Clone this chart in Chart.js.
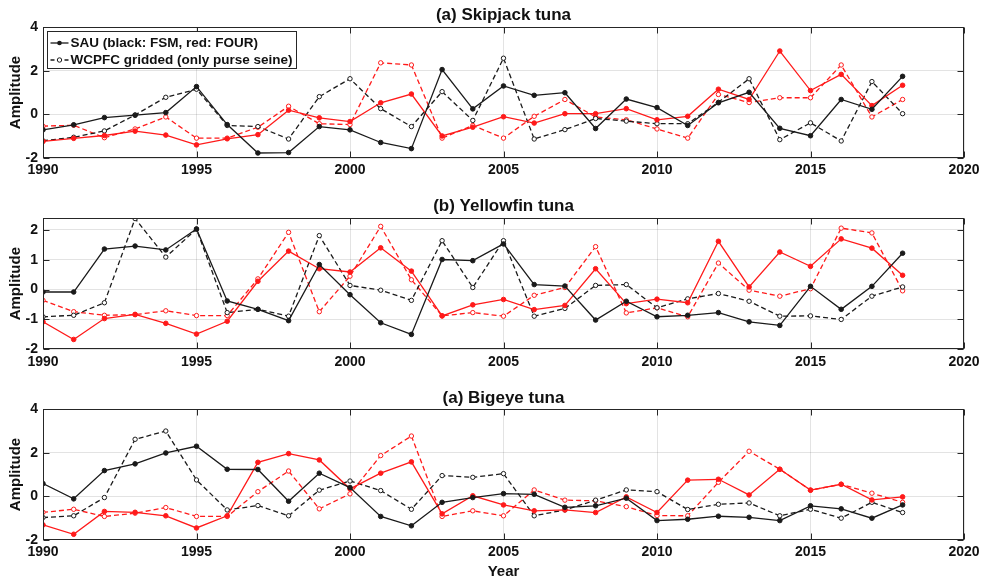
<!DOCTYPE html>
<html>
<head>
<meta charset="utf-8">
<script src="https://cdn.jsdelivr.net/npm/chart.js@4.4.1/dist/chart.umd.min.js"></script>
<style>
  html, body { margin: 0; padding: 0; background: #fff; }
  #wrap { position: relative; width: 985px; height: 581px; overflow: hidden; }
  canvas { position: absolute; left: 0; }
</style>
</head>
<body>
<div id="wrap">
  <canvas id="c1" width="985" height="190" style="top:0px"></canvas>
  <canvas id="c2" width="985" height="190" style="top:190px"></canvas>
  <canvas id="c3" width="985" height="201" style="top:380px"></canvas>
</div>
<script>
// Years of the time series
const years = [1990, 1991, 1992, 1993, 1994, 1995, 1996, 1997, 1998, 1999,
               2000, 2001, 2002, 2003, 2004, 2005, 2006, 2007, 2008, 2009,
               2010, 2011, 2012, 2013, 2014, 2015, 2016, 2017, 2018];
const xTicks = [1990, 1995, 2000, 2005, 2010, 2015, 2020];

// Skipjack tuna amplitudes
const skjSauFsm    = [-0.71, -0.48, -0.15, -0.04, 0.08, 1.27, -0.47, -1.77, -1.75, -0.56,
                      -0.71, -1.29, -1.57, 2.05, 0.25, 1.30, 0.87, 0.99, -0.65, 0.70,
                      0.31, -0.51, 0.53, 1.01, -0.64, -0.98, 0.68, 0.23, 1.74];
const skjSauFour   = [-1.24, -1.10, -0.97, -0.77, -0.95, -1.40, -1.12, -0.93, 0.19, -0.16,
                      -0.33, 0.53, 0.93, -0.99, -0.59, -0.11, -0.40, 0.03, 0.03, 0.26,
                      -0.25, -0.09, 1.15, 0.68, 2.90, 1.09, 1.83, 0.40, 1.33];
const skjWcpfcFsm  = [-1.21, -1.05, -0.76, -0.03, 0.78, 1.15, -0.51, -0.56, -1.13, 0.81,
                      1.63, 0.26, -0.56, 1.04, -0.28, 2.57, -1.13, -0.70, -0.19, -0.31,
                      -0.43, -0.43, 0.55, 1.63, -1.16, -0.39, -1.22, 1.50, 0.03];
const skjWcpfcFour = [-0.54, -0.50, -1.07, -0.67, -0.12, -1.09, -1.09, -0.59, 0.37, -0.43,
                      -0.47, 2.36, 2.26, -1.09, -0.51, -1.09, -0.09, 0.68, -0.12, -0.25,
                      -0.67, -1.09, 0.91, 0.54, 0.76, 0.76, 2.26, -0.12, 0.68];

// Yellowfin tuna amplitudes
const yftSauFsm    = [-0.08, -0.08, 1.36, 1.46, 1.33, 2.03, -0.38, -0.66, -1.04, 0.84,
                      -0.17, -1.11, -1.50, 1.01, 0.97, 1.53, 0.17, 0.12, -1.02, -0.39,
                      -0.91, -0.86, -0.77, -1.08, -1.20, 0.11, -0.66, 0.11, 1.22];
const yftSauFour   = [-1.08, -1.67, -0.97, -0.83, -1.13, -1.49, -1.06, 0.28, 1.29, 0.70,
                      0.59, 1.40, 0.62, -0.88, -0.51, -0.33, -0.67, -0.53, 0.70, -0.47,
                      -0.32, -0.44, 1.62, 0.09, 1.26, 0.78, 1.70, 1.39, 0.48];
const yftWcpfcFsm  = [-0.91, -0.86, -0.44, 2.38, 1.09, 2.03, -0.77, -0.66, -0.89, 1.81,
                      0.14, -0.02, -0.36, 1.64, 0.07, 1.64, -0.89, -0.63, 0.14, 0.17,
                      -0.61, -0.31, -0.13, -0.39, -0.89, -0.88, -1.00, -0.22, 0.09];
const yftWcpfcFour = [-0.36, -0.74, -0.86, -0.84, -0.71, -0.87, -0.87, 0.36, 1.92, -0.74,
                      0.45, 2.12, 0.33, -0.88, -0.77, -0.89, -0.19, 0.07, 1.44, -0.78,
                      -0.61, -0.91, 0.89, -0.02, -0.22, 0.03, 2.06, 1.90, -0.04];

// Bigeye tuna amplitudes
const betSauFsm    = [0.58, -0.12, 1.18, 1.49, 1.99, 2.30, 1.24, 1.23, -0.23, 1.06,
                      0.40, -0.93, -1.36, -0.28, -0.06, 0.12, 0.09, -0.51, -0.44, -0.09,
                      -1.12, -1.06, -0.92, -0.97, -1.12, -0.44, -0.58, -1.01, -0.40];
const betSauFour   = [-1.32, -1.75, -0.70, -0.74, -0.90, -1.46, -0.90, 1.56, 1.96, 1.67,
                      0.34, 1.06, 1.58, -0.81, 0.02, -0.40, -0.67, -0.63, -0.75, -0.03,
                      -0.75, 0.74, 0.78, 0.06, 1.24, 0.28, 0.55, -0.17, -0.03];
const betWcpfcFsm  = [-0.98, -0.90, -0.06, 2.62, 3.00, 0.75, -0.63, -0.43, -0.90, 0.28,
                      0.70, 0.26, -0.60, 0.95, 0.87, 1.04, -0.90, -0.63, -0.18, 0.29,
                      0.21, -0.61, -0.37, -0.31, -0.90, -0.60, -1.01, -0.28, -0.75];
const betWcpfcFour = [-0.74, -0.60, -0.93, -0.78, -0.52, -0.93, -0.93, 0.21, 1.16, -0.58,
                      0.11, 1.87, 2.77, -0.93, -0.67, -0.90, 0.29, -0.18, -0.21, -0.48,
                      -0.89, -0.90, 0.64, 2.07, 1.24, 0.28, 0.55, 0.14, -0.28];

const legendLabels = ['SAU (black: FSM, red: FOUR)', 'WCPFC gridded (only purse seine)'];

const FONT = '"Liberation Sans", Arial, Helvetica, sans-serif';
const INK = '#111111';
const FRAME = '#262626';
const BLACK = '#1a1a1a';
const RED = '#ff1a1a';
const DASH = [5, 3];

Chart.defaults.font.family = FONT;
Chart.defaults.font.weight = 'bold';
Chart.defaults.font.size = 14;
Chart.defaults.color = INK;

function toPoints(values) {
  return years.map((yr, i) => ({ x: yr, y: values[i] }));
}
function sauLine(values, color) {
  return {
    data: toPoints(values), borderColor: color, backgroundColor: color,
    borderWidth: 1.3, tension: 0,
    pointRadius: 2.3, pointBackgroundColor: color, pointBorderColor: color, pointBorderWidth: 1
  };
}
function wcpfcLine(values, color) {
  return {
    data: toPoints(values), borderColor: color, backgroundColor: color,
    borderWidth: 1.3, borderDash: DASH, tension: 0,
    pointRadius: 2.2, pointBackgroundColor: '#ffffff', pointBorderColor: color, pointBorderWidth: 1
  };
}

// Box around the plot area, inward tick marks and the inset legend
const framePlugin = {
  id: 'frame',
  afterLayout(chart) {
    // centre the panel title over the plot area
    const tb = chart.titleBlock;
    if (tb) {
      const w = tb.right - tb.left;
      const c = (chart.chartArea.left + chart.chartArea.right) / 2;
      tb.left = c - w / 2;
      tb.right = c + w / 2;
    }
  },
  afterDatasetsDraw(chart, args, opts) {
    const { ctx, chartArea: a, scales: { x, y } } = chart;
    const L = Math.round(a.left) + 0.5, R = Math.round(a.right) - 0.5;
    const T = Math.round(a.top) + 0.5, B = Math.round(a.bottom) - 0.5;
    ctx.save();
    ctx.strokeStyle = FRAME;
    ctx.lineWidth = 1;
    ctx.setLineDash([]);
    ctx.strokeRect(L, T, R - L, B - T);
    ctx.beginPath();
    const tl = 6;
    x.ticks.forEach(t => {
      const px = Math.round(x.getPixelForValue(t.value)) + 0.5;
      ctx.moveTo(px, B); ctx.lineTo(px, B - tl);
      ctx.moveTo(px, T); ctx.lineTo(px, T + tl);
    });
    y.ticks.forEach(t => {
      const py = Math.round(y.getPixelForValue(t.value)) + 0.5;
      ctx.moveTo(L, py); ctx.lineTo(L + tl, py);
      ctx.moveTo(R, py); ctx.lineTo(R - tl, py);
    });
    ctx.stroke();

    if (opts && opts.legend) {
      const bx = L + 4, by = T + 4, bw = 249, bh = 37;
      ctx.fillStyle = '#ffffff';
      ctx.fillRect(bx, by, bw, bh);
      ctx.strokeStyle = FRAME;
      ctx.strokeRect(bx, by, bw, bh);
      const rows = [by + 11.5, by + 28.5];
      const x0 = bx + 3, x1 = bx + 21, xm = (x0 + x1) / 2;
      ctx.lineWidth = 1.3;
      ctx.strokeStyle = BLACK;
      // solid sample with filled marker
      ctx.setLineDash([]);
      ctx.beginPath(); ctx.moveTo(x0, rows[0]); ctx.lineTo(x1, rows[0]); ctx.stroke();
      ctx.beginPath(); ctx.arc(xm, rows[0], 2.3, 0, Math.PI * 2);
      ctx.fillStyle = BLACK; ctx.fill();
      // dashed sample with open marker
      ctx.setLineDash([4, 3]);
      ctx.beginPath(); ctx.moveTo(x0, rows[1]); ctx.lineTo(x1, rows[1]); ctx.stroke();
      ctx.setLineDash([]);
      ctx.beginPath(); ctx.arc(xm, rows[1], 2.2, 0, Math.PI * 2);
      ctx.fillStyle = '#ffffff'; ctx.fill();
      ctx.lineWidth = 1; ctx.stroke();
      ctx.fillStyle = INK;
      ctx.font = 'bold 13.5px ' + FONT;
      ctx.textBaseline = 'middle';
      ctx.textAlign = 'left';
      ctx.fillText(legendLabels[0], x1 + 2, rows[0] + 0.5);
      ctx.fillText(legendLabels[1], x1 + 2, rows[1] + 0.5);
    }
    ctx.restore();
  }
};

function makePanel(id, cfg) {
  const ctx = document.getElementById(id);
  return new Chart(ctx, {
    type: 'line',
    data: {
      datasets: [
        sauLine(cfg.sauFsm, BLACK),
        sauLine(cfg.sauFour, RED),
        wcpfcLine(cfg.wcpfcFsm, BLACK),
        wcpfcLine(cfg.wcpfcFour, RED)
      ]
    },
    options: {
      responsive: false,
      animation: false,
      devicePixelRatio: 1,
      layout: { padding: { left: 0, right: 21, top: 0, bottom: 0 } },
      plugins: {
        legend: { display: false },
        tooltip: { enabled: false },
        title: {
          display: true, text: cfg.title, color: INK,
          font: { size: 17, weight: 'bold', family: FONT, lineHeight: 1.2 },
          padding: cfg.titlePad
        },
        frame: { legend: !!cfg.legend }
      },
      scales: {
        x: {
          type: 'linear', min: 1990, max: 2020,
          afterBuildTicks: s => { s.ticks = xTicks.map(v => ({ value: v })); },
          ticks: { padding: 4, maxRotation: 0, autoSkip: false, color: INK,
                   font: { size: 14, weight: 'bold' }, callback: v => String(v) },
          grid: { color: 'rgba(0,0,0,0.11)', lineWidth: 1, drawTicks: false },
          border: { display: false },
          title: { display: !!cfg.xTitle, text: 'Year', color: INK,
                   font: { size: 15, weight: 'bold' }, padding: { top: 0, bottom: 0 } },
          afterFit: s => { s.height = cfg.xHeight; }
        },
        y: {
          type: 'linear', min: cfg.yMin, max: cfg.yMax,
          ticks: { stepSize: cfg.yStep, includeBounds: false, padding: 5, color: INK,
                   font: { size: 14, weight: 'bold' }, callback: v => String(v) },
          grid: { color: 'rgba(0,0,0,0.11)', lineWidth: 1, drawTicks: false },
          border: { display: false },
          title: { display: true, text: 'Amplitude', color: INK,
                   font: { size: 15, weight: 'bold' }, padding: { top: 7, bottom: 0 } },
          afterFit: s => { s.width = 43; }
        }
      }
    },
    plugins: [framePlugin]
  });
}

makePanel('c1', {
  title: '(a) Skipjack tuna', titlePad: { top: 5.5, bottom: 1.1 }, xHeight: 32,
  yMin: -2, yMax: 4, yStep: 2, legend: true,
  sauFsm: skjSauFsm, sauFour: skjSauFour, wcpfcFsm: skjWcpfcFsm, wcpfcFour: skjWcpfcFour
});
makePanel('c2', {
  title: '(b) Yellowfin tuna', titlePad: { top: 5.8, bottom: 1.8 }, xHeight: 30.7,
  yMin: -2, yMax: 2.4, yStep: 1,
  sauFsm: yftSauFsm, sauFour: yftSauFour, wcpfcFsm: yftWcpfcFsm, wcpfcFour: yftWcpfcFour
});
makePanel('c3', {
  title: '(a) Bigeye tuna', titlePad: { top: 8.1, bottom: 0.8 }, xHeight: 41.3,
  yMin: -2, yMax: 4, yStep: 2, xTitle: true,
  sauFsm: betSauFsm, sauFour: betSauFour, wcpfcFsm: betWcpfcFsm, wcpfcFour: betWcpfcFour
});
</script>
</body>
</html>
